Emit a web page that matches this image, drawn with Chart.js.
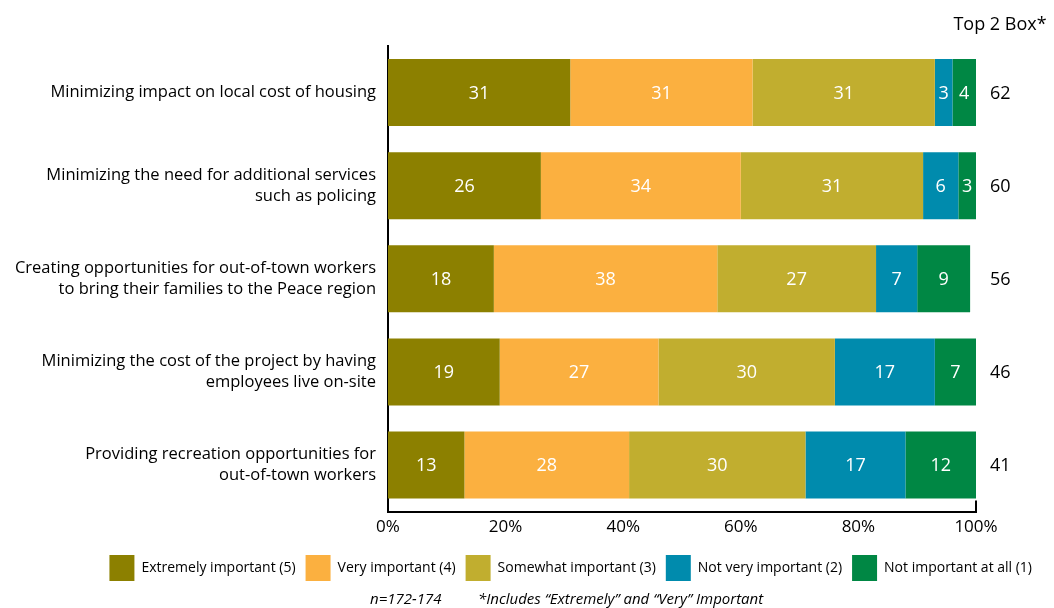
<!DOCTYPE html>
<html>
<head>
<meta charset="utf-8">
<script src="https://cdn.jsdelivr.net/npm/chart.js@4/dist/chart.umd.min.js"></script>
<style>
  html, body { margin: 0; padding: 0; background: #fff; }
  #wrap { width: 1054px; height: 608px; position: relative; }
</style>
</head>
<body>
<div id="wrap"><canvas id="c" width="1054" height="608"></canvas></div>
<script>
// Importance ratings (%), one row per item
const categories = [
  ["Minimizing impact on local cost of housing"],
  ["Minimizing the need for additional services", "such as policing"],
  ["Creating opportunities for out-of-town workers", "to bring their families to the Peace region"],
  ["Minimizing the cost of the project by having", "employees live on-site"],
  ["Providing recreation opportunities for", "out-of-town workers"]
];
const seriesNames = [
  "Extremely important (5)",
  "Very important (4)",
  "Somewhat important (3)",
  "Not very important (2)",
  "Not important at all (1)"
];
const extremely   = [31, 26, 18, 19, 13];
const very        = [31, 34, 38, 27, 28];
const somewhat    = [31, 31, 27, 30, 30];
const notVery     = [3, 6, 7, 17, 17];
const notAtAll    = [4, 3, 9, 7, 12];
const top2Box     = [62, 60, 56, 46, 41];
const xTicks      = [0, 20, 40, 60, 80, 100];
const footnotes   = ["n=172-174", "*Includes \u201CExtremely\u201D and \u201CVery\u201D Important"];

const colors = ["#8c8000", "#fbb040", "#c1ae2f", "#008bad", "#008744"];
const FONT = "'Open Sans', sans-serif";

const seriesValues = [extremely, very, somewhat, notVery, notAtAll];

// white value labels inside segments, Top 2 Box column, axis end tick, footnote
const annotate = {
  id: 'annotate',
  afterDatasetsDraw(chart) {
    const ctx = chart.ctx;
    const x = chart.scales.x, y = chart.scales.y;
    ctx.save();
    ctx.font = "18px " + FONT;
    ctx.textBaseline = 'middle';
    chart.data.datasets.forEach((ds, i) => {
      const meta = chart.getDatasetMeta(i);
      meta.data.forEach((bar, j) => {
        ctx.fillStyle = '#ffffff';
        ctx.textAlign = 'center';
        ctx.fillText(String(ds.data[j]), (bar.x + bar.base) / 2, bar.y + 1);
      });
    });
    // Top 2 Box column
    ctx.fillStyle = '#000';
    ctx.textAlign = 'left';
    top2Box.forEach((v, j) => {
      ctx.fillText(String(v), x.right + 14, y.getPixelForValue(j) + 1);
    });
    ctx.textAlign = 'center';
    ctx.fillText("Top 2 Box*", x.right + 24, 25);
    // end tick at the 100% mark
    ctx.strokeStyle = '#000';
    ctx.lineWidth = 2;
    ctx.beginPath();
    const px = x.getPixelForValue(100);
    ctx.moveTo(px, chart.chartArea.bottom);
    ctx.lineTo(px, chart.chartArea.bottom - 11);
    ctx.stroke();
    // footnote line under the legend
    ctx.font = "italic 15px " + FONT;
    ctx.textAlign = 'left';
    ctx.fillText(footnotes[0], 370, 600);
    ctx.fillText(footnotes[1], 478, 600);
    ctx.restore();
  }
};

new Chart(document.getElementById('c'), {
  type: 'bar',
  data: {
    labels: categories,
    datasets: seriesNames.map((name, i) => ({
      label: name,
      data: seriesValues[i],
      backgroundColor: colors[i],
      borderWidth: 0,
      categoryPercentage: 1.0,
      barPercentage: 0.72
    }))
  },
  options: {
    indexAxis: 'y',
    responsive: false,
    animation: false,
    devicePixelRatio: 1,
    layout: { padding: { top: 46, right: 12, left: 0, bottom: 17 } },
    scales: {
      x: {
        stacked: true,
        min: 0, max: 100,
        afterBuildTicks(scale) { scale.ticks = xTicks.map(v => ({ value: v })); },
        afterFit(scale) { scale.height += 3; },
        ticks: {
          callback: v => v + '%',
          color: '#000',
          font: { family: FONT, size: 17 },
          padding: 5,
          maxRotation: 0
        },
        grid: { display: false, drawTicks: false },
        border: { display: true, color: '#000', width: 2 }
      },
      y: {
        stacked: true,
        afterFit(scale) { scale.width = 388; },
        ticks: {
          color: '#000',
          font: { family: FONT, size: 16.5, lineHeight: 1.25 },
          padding: 12,
          crossAlign: 'near'
        },
        grid: { display: false, drawTicks: false },
        border: { display: true, color: '#000', width: 2 }
      },
      // right-hand gutter that holds the Top 2 Box column
      gutter: {
        type: 'category',
        axis: 'y',
        position: 'right',
        afterFit(scale) { scale.width = 66; },
        ticks: { display: false },
        grid: { display: false, drawTicks: false },
        border: { display: false }
      }
    },
    plugins: {
      legend: {
        position: 'bottom',
        align: 'end',
        labels: {
          boxWidth: 25,
          boxHeight: 26,
          padding: 10,
          color: '#000',
          font: { family: FONT, size: 14 }
        }
      },
      tooltip: { enabled: false }
    }
  },
  plugins: [annotate]
});
</script>
</body>
</html>
